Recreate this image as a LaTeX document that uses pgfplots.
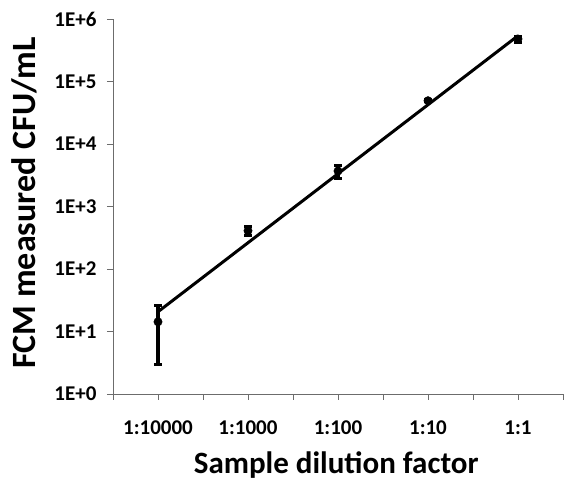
\documentclass[border=0pt]{standalone}
\usepackage{fontspec}
\setmainfont{Carlito}
\usepackage{pgfplots}
\usepackage{pgfplotstable}
\pgfplotsset{compat=1.18}

% dilution series: x = category index, y = mean, lo/hi = mean -/+ std dev
\pgfplotstableread{
x y lo hi
0 14.3 3.0 25.6
1 410 340 480
2 3700 2850 4550
3 49300 47300 51300
4 479000 424000 534000
}\fcmdata

\begin{document}
\begin{tikzpicture}
\begin{axis}[
  width=450pt, height=375pt, scale only axis,
  xmin=-0.5, xmax=4.5,
  ymode=log, ymin=1, ymax=1e6,
  axis lines=left,
  axis line style={-, draw=gray!85!black, line width=0.8pt},
  xtick={0,1,2,3,4},
  xticklabels={1:10000,1:1000,1:100,1:10,1:1},
  minor xtick={-0.5,0.5,1.5,2.5,3.5,4.5},
  ytick={1,10,100,1000,10000,100000,1000000},
  yticklabels={1E+0,1E+1,1E+2,1E+3,1E+4,1E+5,1E+6},
  yminorticks=false,
  tick align=outside,
  major tick length=6pt, minor tick length=6pt,
  every tick/.style={draw=gray!85!black, line width=0.8pt},
  ticklabel style={font=\bfseries\fontsize{21}{25}\selectfont},
  xticklabel style={yshift=-17pt},
  yticklabel style={xshift=-7pt},
  xlabel={Sample dilution factor},
  xlabel style={font=\bfseries\fontsize{31}{36}\selectfont,
    at={(axis description cs:0.496,-0.213)}, anchor=base},
  ylabel={FCM measured CFU/mL},
  ylabel style={font=\bfseries\fontsize{34}{40}\selectfont,
    at={(axis description cs:-0.196,0.51)}, anchor=center},
  clip=false,
  unbounded coords=jump,
]
% trend line
\addplot[black, line width=3pt] coordinates {(0,20.7) (4,540000)};
% error bars (low end, high end, break)
\addplot[black, line width=3.4pt, mark=-, mark size=3.8pt,
  mark options={solid, line width=3pt}] coordinates {
  (0,3.0) (0,25.6) (0,nan)
  (1,340) (1,480) (1,nan)
  (2,2850) (2,4550) (2,nan)
  (3,47300) (3,51300) (3,nan)
  (4,424000) (4,534000)
};
% measured means
\addplot[only marks, mark=*, mark size=4.2pt, black]
  table[x=x, y=y] {\fcmdata};
\end{axis}
\path (-113pt,-87pt) rectangle (451pt,394pt);
\end{tikzpicture}
\end{document}
